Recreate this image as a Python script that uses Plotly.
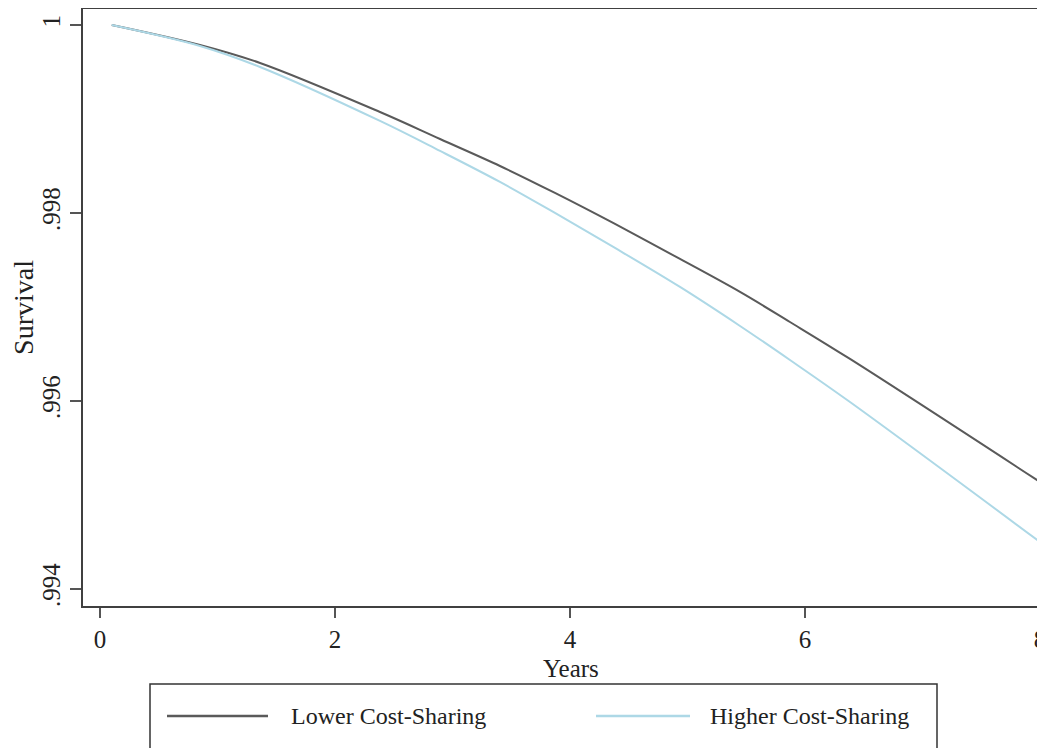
import plotly.graph_objects as go

years = [0.1, 0.851, 1.362, 2.383, 2.894, 3.404, 3.872, 4.383, 4.936, 5.447, 5.872, 6.383, 8.0]
lower_cs = [1.0, 0.999787, 0.999596, 0.999074, 0.998787, 0.998500, 0.998213, 0.997883,
            0.997511, 0.997160, 0.996840, 0.996447, 0.995138]
higher_cs = [1.0, 0.999777, 0.999553, 0.998979, 0.998660, 0.998330, 0.998000, 0.997628,
             0.997213, 0.996798, 0.996436, 0.995989, 0.994500]
series_names = ["Lower Cost-Sharing", "Higher Cost-Sharing"]
series_colors = ["#5a5a5a", "#ADD8E6"]
y_ticks = [0.994, 0.996, 0.998, 1.0]
y_tick_labels = [".994", ".996", ".998", "1"]
x_ticks = [0, 2, 4, 6, 8]
x_title = "Years"
y_title = "Survival"

# page body has an 8px margin; figure placed at (8, 8)
OFF = 8
W, H = 1045 - OFF, 748 - OFF
L, T, R, B = 83 - OFF, 1, 0, 142
pw, ph = W - L - R, H - T - B

def px(x):
    return (x - OFF - L) / pw

def py(y):
    return (H - B - (y - OFF)) / ph

FONT = "Liberation Serif"
TICKFONT = dict(family=FONT, size=25, color="#222")

fig = go.Figure()
for name, vals, col in zip(series_names, [lower_cs, higher_cs], series_colors):
    fig.add_trace(go.Scatter(x=years, y=vals, mode="lines", name=name,
                             line=dict(color=col, width=2, shape="spline", smoothing=1.0),
                             showlegend=False))

fig.update_layout(
    width=W, height=H,
    margin=dict(l=L, r=R, t=T, b=B),
    paper_bgcolor="white", plot_bgcolor="white",
    font=dict(family=FONT, size=23, color="#222"),
    xaxis=dict(range=[-0.1447, 8.0426], tickvals=x_ticks, ticks="outside", ticklen=10,
               tickwidth=2, tickcolor="#555", showline=True, linecolor="#404040",
               linewidth=2, mirror=True, showgrid=False, zeroline=False,
               tickfont=TICKFONT, ticklabeloverflow="allow", automargin=False),
    yaxis=dict(range=[0.993819, 1.000170], tickvals=y_ticks, ticktext=y_tick_labels,
               tickangle=-90, ticks="outside", ticklen=11, tickwidth=2, tickcolor="#555",
               showline=True, linecolor="#404040", linewidth=2, showgrid=False,
               tickfont=TICKFONT, ticklabeloverflow="allow",
               zeroline=False, title=dict(text=y_title), automargin=False),
)

# x-axis title placed precisely
fig.add_annotation(xref="paper", yref="paper", x=px(571), y=py(669), text=x_title,
                   showarrow=False, xanchor="center", yanchor="middle",
                   font=dict(family=FONT, size=25, color="#222"))

# Legend (drawn manually to match the wide bordered box)
fig.add_shape(type="rect", xref="paper", yref="paper",
              x0=px(150), x1=px(937), y0=py(770), y1=py(684),
              line=dict(color="#333", width=1.5), fillcolor="rgba(0,0,0,0)")
legend_items = [(167, 268, 289), (596, 690, 708)]
for (lx0, lx1, tx), name, col in zip(legend_items, series_names, series_colors):
    fig.add_shape(type="line", xref="paper", yref="paper",
                  x0=px(lx0), x1=px(lx1), y0=py(716), y1=py(716),
                  line=dict(color=col, width=2.5))
    fig.add_annotation(xref="paper", yref="paper", x=px(tx), y=py(716),
                       text=name, showarrow=False, xanchor="left", yanchor="middle",
                       font=dict(family=FONT, size=24, color="#222"))

fig.write_html("out.html")
